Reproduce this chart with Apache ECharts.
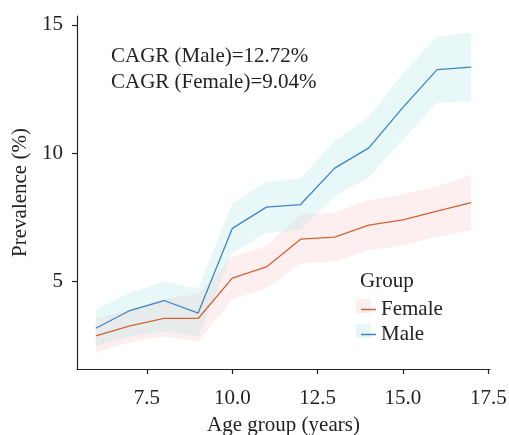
<!DOCTYPE html>
<html>
<head>
<meta charset="utf-8">
<script src="https://cdn.jsdelivr.net/npm/echarts@6/dist/echarts.min.js"></script>
<style>
html,body{margin:0;padding:0;background:#fff;}
#chart{width:509px;height:435px;}
</style>
</head>
<body>
<div id="chart"></div>
<script>
var ages = [6, 7, 8, 9, 10, 11, 12, 13, 14, 15, 16, 17];
var maleMean  = [3.18, 3.87, 4.26, 3.77, 7.07, 7.90, 8.00, 9.42, 10.21, 11.79, 13.26, 13.36];
var maleLow   = [2.49, 2.86, 3.05, 2.86, 6.11, 6.90, 7.00, 8.34, 9.05, 10.53, 11.97, 12.03];
var maleHigh  = [3.92, 4.57, 5.00, 4.72, 8.03, 8.88, 9.02, 10.48, 11.42, 13.12, 14.55, 14.70];
var femaleMean = [2.88, 3.27, 3.56, 3.56, 5.13, 5.57, 6.65, 6.73, 7.20, 7.40, 7.74, 8.08];
var femaleLow  = [2.21, 2.63, 2.86, 2.65, 4.31, 4.74, 5.70, 5.78, 6.22, 6.40, 6.75, 6.99];
var femaleHigh = [3.53, 3.92, 4.31, 4.52, 5.96, 6.38, 7.60, 7.69, 8.18, 8.40, 8.70, 9.16];
var xTicks = [7.5, 10.0, 12.5, 15.0, 17.5];
var yTicks = [5, 10, 15];
var cagrLines = ['CAGR (Male)=12.72%', 'CAGR (Female)=9.04%'];

function pairs(xs, ys) { return xs.map(function (x, i) { return [x, ys[i]]; }); }
function triples(xs, lo, hi) { return xs.map(function (x, i) { return [x, lo[i], hi[i]]; }); }

var FONT = 'Liberation Serif';
var TXT = '#222';
var maleColor = '#3b86c6';
var femaleColor = '#cf6531';
var maleBand = 'rgba(140,215,215,0.2)';
var femaleBand = 'rgba(243,165,165,0.18)';

function bandSeries(name, data, fill, z) {
  return {
    name: name, type: 'custom', data: data, z: z, silent: true,
    encode: { x: 0, y: [1, 2] },
    clip: true,
    renderItem: function (params, api) {
      if (params.dataIndex !== 0) return null;
      var upper = [], lower = [];
      for (var i = 0; i < data.length; i++) {
        upper.push(api.coord([data[i][0], data[i][2]]));
        lower.unshift(api.coord([data[i][0], data[i][1]]));
      }
      return {
        type: 'polygon',
        shape: { points: upper.concat(lower) },
        style: { fill: fill, stroke: null },
        silent: true
      };
    }
  };
}

var chart = echarts.init(document.getElementById('chart'));
chart.setOption({
  animation: false,
  grid: { left: 77, right: 19, top: 16, bottom: 66, outerBoundsMode: 'none', containLabel: false },
  title: {
    text: 'Group', left: 355, top: 266,
    textStyle: { fontFamily: FONT, fontSize: 21, fontWeight: 'normal', color: TXT }
  },
  legend: {
    data: ['Female', 'Male'],
    orient: 'vertical', left: 356, top: 294,
    icon: 'rect', itemWidth: 15, itemHeight: 1.5, itemGap: 4, itemTextGap: 6,
    textStyle: { fontFamily: FONT, fontSize: 21, color: TXT },
    selectedMode: false
  },
  graphic: [
    { type: 'rect', left: 356, top: 299, shape: { width: 15, height: 14 }, style: { fill: '#fdeeee' }, z: 0 },
    { type: 'rect', left: 356, top: 324, shape: { width: 15, height: 14 }, style: { fill: '#e7f7f7' }, z: 0 },
    { type: 'text', left: 111, top: 46, style: { text: cagrLines[0], font: '21px "Liberation Serif"', fill: TXT } },
    { type: 'text', left: 111, top: 72, style: { text: cagrLines[1], font: '21px "Liberation Serif"', fill: TXT } }
  ],
  xAxis: {
    type: 'value', min: 5.45, max: 17.55,
    name: 'Age group (years)', nameLocation: 'middle', nameGap: 46,
    nameTextStyle: { fontFamily: FONT, fontSize: 21, color: TXT },
    axisLine: { lineStyle: { color: '#222', width: 1.2 } },
    axisTick: { show: true, length: 5, customValues: xTicks, lineStyle: { color: '#222', width: 1.2 } },
    axisLabel: { customValues: xTicks, margin: 19, fontFamily: FONT, fontSize: 21, color: TXT,
      formatter: function (v) { return v.toFixed(1); } },
    splitLine: { show: false }
  },
  yAxis: {
    type: 'value', min: 1.59, max: 15.35,
    name: 'Prevalence (%)', nameLocation: 'middle', nameGap: 42, nameRotate: 90,
    nameTextStyle: { fontFamily: FONT, fontSize: 21, color: TXT },
    axisLine: { show: true, lineStyle: { color: '#222', width: 1.2 } },
    axisTick: { show: true, length: 5, customValues: yTicks, lineStyle: { color: '#222', width: 1.2 } },
    axisLabel: { customValues: yTicks, margin: 14, fontFamily: FONT, fontSize: 21, color: TXT },
    splitLine: { show: false }
  },
  series: [
    bandSeries('fBand', triples(ages, femaleLow, femaleHigh), femaleBand, 1),
    bandSeries('mBand', triples(ages, maleLow, maleHigh), maleBand, 2),
    { name: 'Female', type: 'line', data: pairs(ages, femaleMean), symbol: 'none', itemStyle: { color: femaleColor },
      lineStyle: { color: femaleColor, width: 1.3 }, z: 3 },
    { name: 'Male', type: 'line', data: pairs(ages, maleMean), symbol: 'none', itemStyle: { color: maleColor },
      lineStyle: { color: maleColor, width: 1.3 }, z: 4 }
  ]
});
</script>
</body>
</html>
